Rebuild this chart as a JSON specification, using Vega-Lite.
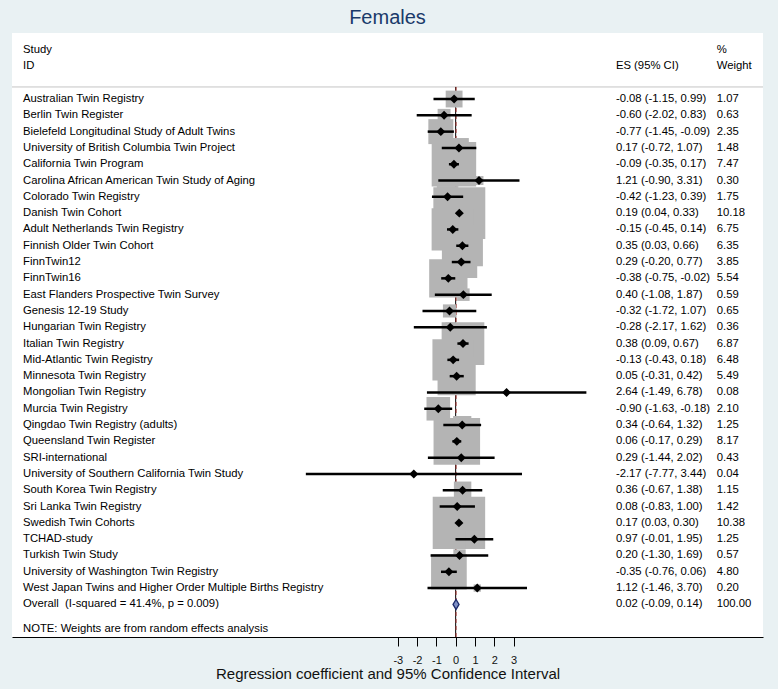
{
  "$schema": "https://vega.github.io/schema/vega-lite/v6.json",
  "width": 751,
  "height": 604,
  "autosize": {"type": "none"},
  "padding": {"left": 12, "top": 33, "right": 15, "bottom": 52},
  "background": "#e9f1f3",
  "title": {"text": "Females", "fontSize": 20, "color": "#1a3a6a", "font": "Liberation Sans", "fontWeight": "normal", "anchor": "middle", "offset": 5},
  "config": {
    "view": {"stroke": null, "fill": "white"},
    "text": {"font": "Liberation Sans"},
    "axisX": {
      "titleFont": "Liberation Sans", "titleFontSize": 15, "titleFontWeight": "normal", "titleColor": "#111111", "titlePadding": 1,
      "labelFont": "Liberation Sans", "labelFontSize": 11, "labelColor": "#111111", "labelPadding": 8, "labelFlush": false, "labelOverlap": false,
      "tickSize": 9, "tickColor": "#000000", "tickWidth": 1,
      "domainColor": "#000000", "domainWidth": 1, "grid": false
    }
  },
  "datasets": {
    "studies": [
      {"kind": "study", "row": 1, "study": "Australian Twin Registry", "es": -0.08, "lo": -1.15, "hi": 0.99, "wt": 1.07, "ci": "-0.08 (-1.15, 0.99)"},
      {"kind": "study", "row": 2, "study": "Berlin Twin Register", "es": -0.60, "lo": -2.02, "hi": 0.83, "wt": 0.63, "ci": "-0.60 (-2.02, 0.83)"},
      {"kind": "study", "row": 3, "study": "Bielefeld Longitudinal Study of Adult Twins", "es": -0.77, "lo": -1.45, "hi": -0.09, "wt": 2.35, "ci": "-0.77 (-1.45, -0.09)"},
      {"kind": "study", "row": 4, "study": "University of British Columbia Twin Project", "es": 0.17, "lo": -0.72, "hi": 1.07, "wt": 1.48, "ci": "0.17 (-0.72, 1.07)"},
      {"kind": "study", "row": 5, "study": "California Twin Program", "es": -0.09, "lo": -0.35, "hi": 0.17, "wt": 7.47, "ci": "-0.09 (-0.35, 0.17)"},
      {"kind": "study", "row": 6, "study": "Carolina African American Twin Study of Aging", "es": 1.21, "lo": -0.90, "hi": 3.31, "wt": 0.30, "ci": "1.21 (-0.90, 3.31)"},
      {"kind": "study", "row": 7, "study": "Colorado Twin Registry", "es": -0.42, "lo": -1.23, "hi": 0.39, "wt": 1.75, "ci": "-0.42 (-1.23, 0.39)"},
      {"kind": "study", "row": 8, "study": "Danish Twin Cohort", "es": 0.19, "lo": 0.04, "hi": 0.33, "wt": 10.18, "ci": "0.19 (0.04, 0.33)"},
      {"kind": "study", "row": 9, "study": "Adult Netherlands Twin Registry", "es": -0.15, "lo": -0.45, "hi": 0.14, "wt": 6.75, "ci": "-0.15 (-0.45, 0.14)"},
      {"kind": "study", "row": 10, "study": "Finnish Older Twin Cohort", "es": 0.35, "lo": 0.03, "hi": 0.66, "wt": 6.35, "ci": "0.35 (0.03, 0.66)"},
      {"kind": "study", "row": 11, "study": "FinnTwin12", "es": 0.29, "lo": -0.20, "hi": 0.77, "wt": 3.85, "ci": "0.29 (-0.20, 0.77)"},
      {"kind": "study", "row": 12, "study": "FinnTwin16", "es": -0.38, "lo": -0.75, "hi": -0.02, "wt": 5.54, "ci": "-0.38 (-0.75, -0.02)"},
      {"kind": "study", "row": 13, "study": "East Flanders Prospective Twin Survey", "es": 0.40, "lo": -1.08, "hi": 1.87, "wt": 0.59, "ci": "0.40 (-1.08, 1.87)"},
      {"kind": "study", "row": 14, "study": "Genesis 12-19 Study", "es": -0.32, "lo": -1.72, "hi": 1.07, "wt": 0.65, "ci": "-0.32 (-1.72, 1.07)"},
      {"kind": "study", "row": 15, "study": "Hungarian Twin Registry", "es": -0.28, "lo": -2.17, "hi": 1.62, "wt": 0.36, "ci": "-0.28 (-2.17, 1.62)"},
      {"kind": "study", "row": 16, "study": "Italian Twin Registry", "es": 0.38, "lo": 0.09, "hi": 0.67, "wt": 6.87, "ci": "0.38 (0.09, 0.67)"},
      {"kind": "study", "row": 17, "study": "Mid-Atlantic Twin Registry", "es": -0.13, "lo": -0.43, "hi": 0.18, "wt": 6.48, "ci": "-0.13 (-0.43, 0.18)"},
      {"kind": "study", "row": 18, "study": "Minnesota Twin Registry", "es": 0.05, "lo": -0.31, "hi": 0.42, "wt": 5.49, "ci": "0.05 (-0.31, 0.42)"},
      {"kind": "study", "row": 19, "study": "Mongolian Twin Registry", "es": 2.64, "lo": -1.49, "hi": 6.78, "wt": 0.08, "ci": "2.64 (-1.49, 6.78)"},
      {"kind": "study", "row": 20, "study": "Murcia Twin Registry", "es": -0.90, "lo": -1.63, "hi": -0.18, "wt": 2.10, "ci": "-0.90 (-1.63, -0.18)"},
      {"kind": "study", "row": 21, "study": "Qingdao Twin Registry (adults)", "es": 0.34, "lo": -0.64, "hi": 1.32, "wt": 1.25, "ci": "0.34 (-0.64, 1.32)"},
      {"kind": "study", "row": 22, "study": "Queensland Twin Register", "es": 0.06, "lo": -0.17, "hi": 0.29, "wt": 8.17, "ci": "0.06 (-0.17, 0.29)"},
      {"kind": "study", "row": 23, "study": "SRI-international", "es": 0.29, "lo": -1.44, "hi": 2.02, "wt": 0.43, "ci": "0.29 (-1.44, 2.02)"},
      {"kind": "study", "row": 24, "study": "University of Southern California Twin Study", "es": -2.17, "lo": -7.77, "hi": 3.44, "wt": 0.04, "ci": "-2.17 (-7.77, 3.44)"},
      {"kind": "study", "row": 25, "study": "South Korea Twin Registry", "es": 0.36, "lo": -0.67, "hi": 1.38, "wt": 1.15, "ci": "0.36 (-0.67, 1.38)"},
      {"kind": "study", "row": 26, "study": "Sri Lanka Twin Registry", "es": 0.08, "lo": -0.83, "hi": 1.00, "wt": 1.42, "ci": "0.08 (-0.83, 1.00)"},
      {"kind": "study", "row": 27, "study": "Swedish Twin Cohorts", "es": 0.17, "lo": 0.03, "hi": 0.30, "wt": 10.38, "ci": "0.17 (0.03, 0.30)"},
      {"kind": "study", "row": 28, "study": "TCHAD-study", "es": 0.97, "lo": -0.01, "hi": 1.95, "wt": 1.25, "ci": "0.97 (-0.01, 1.95)"},
      {"kind": "study", "row": 29, "study": "Turkish Twin Study", "es": 0.20, "lo": -1.30, "hi": 1.69, "wt": 0.57, "ci": "0.20 (-1.30, 1.69)"},
      {"kind": "study", "row": 30, "study": "University of Washington Twin Registry", "es": -0.35, "lo": -0.76, "hi": 0.06, "wt": 4.80, "ci": "-0.35 (-0.76, 0.06)"},
      {"kind": "study", "row": 31, "study": "West Japan Twins and Higher Order Multiple Births Registry", "es": 1.12, "lo": -1.46, "hi": 3.70, "wt": 0.20, "ci": "1.12 (-1.46, 3.70)"},
      {"kind": "overall", "row": 32, "study": "Overall\u00a0 (I-squared = 41.4%, p = 0.009)", "es": 0.02, "lo": -0.09, "hi": 0.14, "wt": 100.00, "ci": "0.02 (-0.09, 0.14)"}
    ]
  },
  "data": {"name": "studies"},
  "layer": [
    {
      "data": {"values": [{}]},
      "mark": {"type": "rule", "color": "#c4c4c4", "strokeWidth": 1},
      "encoding": {
        "y": {"datum": 0.26, "type": "quantitative", "scale": {"domain": [-3.05, 34.0], "reverse": true, "nice": false, "zero": false}, "axis": null}
      }
    },
    {
      "data": {"values": [{}]},
      "mark": {"type": "rule", "color": "#000000", "strokeWidth": 1},
      "encoding": {
        "x": {"datum": 0, "type": "quantitative", "scale": {"domain": [-23.01, 15.94], "nice": false, "zero": false}, "title": "Regression coefficient and 95% Confidence Interval", "axis": {"values": [-3, -2, -1, 0, 1, 2, 3], "labelExpr": "datum.value + ''"}},
        "y": {"datum": 0.26, "type": "quantitative", "scale": {"domain": [-3.05, 34.0], "reverse": true, "nice": false, "zero": false}, "axis": null},
        "y2": {"datum": 34.0}
      }
    },
    {
      "transform": [{"filter": "datum.kind == 'overall'"}],
      "mark": {"type": "rule", "color": "#a3302c", "strokeWidth": 1, "strokeDash": [4, 3]},
      "encoding": {
        "x": {"field": "es", "type": "quantitative", "scale": {"domain": [-23.01, 15.94], "nice": false, "zero": false}, "title": "Regression coefficient and 95% Confidence Interval", "axis": {"values": [-3, -2, -1, 0, 1, 2, 3], "labelExpr": "datum.value + ''"}},
        "y": {"datum": 0.26, "type": "quantitative", "scale": {"domain": [-3.05, 34.0], "reverse": true, "nice": false, "zero": false}, "axis": null},
        "y2": {"datum": 34.0}
      }
    },
    {
      "transform": [{"filter": "datum.kind == 'study'"}],
      "mark": {"type": "square", "filled": true, "color": "#b4b4b4", "opacity": 1},
      "encoding": {
        "x": {"field": "es", "type": "quantitative", "scale": {"domain": [-23.01, 15.94], "nice": false, "zero": false}, "title": "Regression coefficient and 95% Confidence Interval", "axis": {"values": [-3, -2, -1, 0, 1, 2, 3], "labelExpr": "datum.value + ''"}},
        "y": {"field": "row", "type": "quantitative", "scale": {"domain": [-3.05, 34.0], "reverse": true, "nice": false, "zero": false}, "axis": null},
        "size": {"field": "wt", "type": "quantitative", "scale": {"type": "linear", "domain": [0, 10], "range": [0, 2650], "zero": true}, "legend": null}
      }
    },
    {
      "transform": [{"filter": "datum.kind == 'study'"}],
      "mark": {"type": "rule", "color": "#000000", "strokeWidth": 2.5},
      "encoding": {
        "x": {"field": "lo", "type": "quantitative", "scale": {"domain": [-23.01, 15.94], "nice": false, "zero": false}, "title": "Regression coefficient and 95% Confidence Interval", "axis": {"values": [-3, -2, -1, 0, 1, 2, 3], "labelExpr": "datum.value + ''"}},
        "x2": {"field": "hi"},
        "y": {"field": "row", "type": "quantitative", "scale": {"domain": [-3.05, 34.0], "reverse": true, "nice": false, "zero": false}, "axis": null}
      }
    },
    {
      "transform": [{"filter": "datum.kind == 'study'"}],
      "mark": {"type": "point", "shape": "diamond", "filled": true, "color": "#000000", "size": 80, "opacity": 1},
      "encoding": {
        "x": {"field": "es", "type": "quantitative", "scale": {"domain": [-23.01, 15.94], "nice": false, "zero": false}, "title": "Regression coefficient and 95% Confidence Interval", "axis": {"values": [-3, -2, -1, 0, 1, 2, 3], "labelExpr": "datum.value + ''"}},
        "y": {"field": "row", "type": "quantitative", "scale": {"domain": [-3.05, 34.0], "reverse": true, "nice": false, "zero": false}, "axis": null}
      }
    },
    {
      "transform": [{"filter": "datum.kind == 'overall'"}],
      "mark": {"type": "point", "shape": "M-0.6,0L0,-1L0.6,0L0,1Z", "filled": true, "fill": "#7e90c6", "stroke": "#1b2a6b", "strokeWidth": 1.3, "size": 100, "opacity": 1},
      "encoding": {
        "x": {"field": "es", "type": "quantitative", "scale": {"domain": [-23.01, 15.94], "nice": false, "zero": false}, "title": "Regression coefficient and 95% Confidence Interval", "axis": {"values": [-3, -2, -1, 0, 1, 2, 3], "labelExpr": "datum.value + ''"}},
        "y": {"field": "row", "type": "quantitative", "scale": {"domain": [-3.05, 34.0], "reverse": true, "nice": false, "zero": false}, "axis": null}
      }
    },
    {
      "mark": {"type": "text", "align": "left", "baseline": "middle", "fontSize": 11.3, "color": "#000000"},
      "encoding": {
        "x": {"datum": -22.44, "type": "quantitative", "scale": {"domain": [-23.01, 15.94], "nice": false, "zero": false}, "title": "Regression coefficient and 95% Confidence Interval", "axis": {"values": [-3, -2, -1, 0, 1, 2, 3], "labelExpr": "datum.value + ''"}},
        "y": {"field": "row", "type": "quantitative", "scale": {"domain": [-3.05, 34.0], "reverse": true, "nice": false, "zero": false}, "axis": null},
        "text": {"field": "study"}
      }
    },
    {
      "mark": {"type": "text", "align": "left", "baseline": "middle", "fontSize": 11.3, "color": "#000000"},
      "encoding": {
        "x": {"datum": 8.31, "type": "quantitative", "scale": {"domain": [-23.01, 15.94], "nice": false, "zero": false}, "title": "Regression coefficient and 95% Confidence Interval", "axis": {"values": [-3, -2, -1, 0, 1, 2, 3], "labelExpr": "datum.value + ''"}},
        "y": {"field": "row", "type": "quantitative", "scale": {"domain": [-3.05, 34.0], "reverse": true, "nice": false, "zero": false}, "axis": null},
        "text": {"field": "ci"}
      }
    },
    {
      "mark": {"type": "text", "align": "left", "baseline": "middle", "fontSize": 11.3, "color": "#000000"},
      "encoding": {
        "x": {"datum": 13.54, "type": "quantitative", "scale": {"domain": [-23.01, 15.94], "nice": false, "zero": false}, "title": "Regression coefficient and 95% Confidence Interval", "axis": {"values": [-3, -2, -1, 0, 1, 2, 3], "labelExpr": "datum.value + ''"}},
        "y": {"field": "row", "type": "quantitative", "scale": {"domain": [-3.05, 34.0], "reverse": true, "nice": false, "zero": false}, "axis": null},
        "text": {"field": "wt", "type": "quantitative", "format": ".2f"}
      }
    },
    {
      "data": {"values": [{}]},
      "mark": {"type": "text", "align": "left", "baseline": "middle", "fontSize": 11.3, "color": "#000000", "text": "Study"},
      "encoding": {
        "x": {"datum": -22.44, "type": "quantitative", "scale": {"domain": [-23.01, 15.94], "nice": false, "zero": false}, "title": "Regression coefficient and 95% Confidence Interval", "axis": {"values": [-3, -2, -1, 0, 1, 2, 3], "labelExpr": "datum.value + ''"}},
        "y": {"datum": -2.0, "type": "quantitative", "scale": {"domain": [-3.05, 34.0], "reverse": true, "nice": false, "zero": false}, "axis": null}
      }
    },
    {
      "data": {"values": [{}]},
      "mark": {"type": "text", "align": "left", "baseline": "middle", "fontSize": 11.3, "color": "#000000", "text": "ID"},
      "encoding": {
        "x": {"datum": -22.44, "type": "quantitative", "scale": {"domain": [-23.01, 15.94], "nice": false, "zero": false}, "title": "Regression coefficient and 95% Confidence Interval", "axis": {"values": [-3, -2, -1, 0, 1, 2, 3], "labelExpr": "datum.value + ''"}},
        "y": {"datum": -1.02, "type": "quantitative", "scale": {"domain": [-3.05, 34.0], "reverse": true, "nice": false, "zero": false}, "axis": null}
      }
    },
    {
      "data": {"values": [{}]},
      "mark": {"type": "text", "align": "left", "baseline": "middle", "fontSize": 11.3, "color": "#000000", "text": "ES (95% CI)"},
      "encoding": {
        "x": {"datum": 8.31, "type": "quantitative", "scale": {"domain": [-23.01, 15.94], "nice": false, "zero": false}, "title": "Regression coefficient and 95% Confidence Interval", "axis": {"values": [-3, -2, -1, 0, 1, 2, 3], "labelExpr": "datum.value + ''"}},
        "y": {"datum": -1.02, "type": "quantitative", "scale": {"domain": [-3.05, 34.0], "reverse": true, "nice": false, "zero": false}, "axis": null}
      }
    },
    {
      "data": {"values": [{}]},
      "mark": {"type": "text", "align": "left", "baseline": "middle", "fontSize": 11.3, "color": "#000000", "text": "%"},
      "encoding": {
        "x": {"datum": 13.54, "type": "quantitative", "scale": {"domain": [-23.01, 15.94], "nice": false, "zero": false}, "title": "Regression coefficient and 95% Confidence Interval", "axis": {"values": [-3, -2, -1, 0, 1, 2, 3], "labelExpr": "datum.value + ''"}},
        "y": {"datum": -2.0, "type": "quantitative", "scale": {"domain": [-3.05, 34.0], "reverse": true, "nice": false, "zero": false}, "axis": null}
      }
    },
    {
      "data": {"values": [{}]},
      "mark": {"type": "text", "align": "left", "baseline": "middle", "fontSize": 11.3, "color": "#000000", "text": "Weight"},
      "encoding": {
        "x": {"datum": 13.54, "type": "quantitative", "scale": {"domain": [-23.01, 15.94], "nice": false, "zero": false}, "title": "Regression coefficient and 95% Confidence Interval", "axis": {"values": [-3, -2, -1, 0, 1, 2, 3], "labelExpr": "datum.value + ''"}},
        "y": {"datum": -1.02, "type": "quantitative", "scale": {"domain": [-3.05, 34.0], "reverse": true, "nice": false, "zero": false}, "axis": null}
      }
    },
    {
      "data": {"values": [{}]},
      "mark": {"type": "text", "align": "left", "baseline": "middle", "fontSize": 11.3, "color": "#000000", "text": "NOTE: Weights are from random effects analysis"},
      "encoding": {
        "x": {"datum": -22.44, "type": "quantitative", "scale": {"domain": [-23.01, 15.94], "nice": false, "zero": false}, "title": "Regression coefficient and 95% Confidence Interval", "axis": {"values": [-3, -2, -1, 0, 1, 2, 3], "labelExpr": "datum.value + ''"}},
        "y": {"datum": 33.5, "type": "quantitative", "scale": {"domain": [-3.05, 34.0], "reverse": true, "nice": false, "zero": false}, "axis": null}
      }
    }
  ]
}
